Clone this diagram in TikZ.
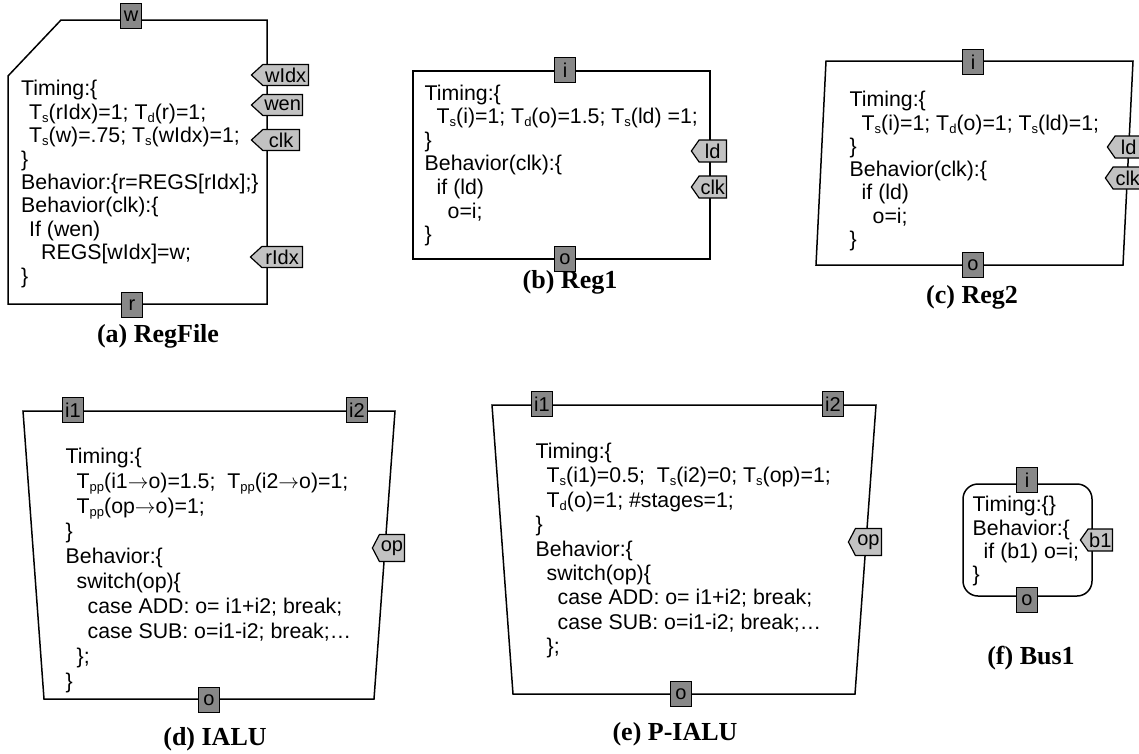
\documentclass[tikz,border=0pt]{standalone}
\usepackage{fontspec}
\setmainfont{Liberation Sans}
\newfontfamily\capfont{Liberation Serif}
\usetikzlibrary{shapes.symbols}
\definecolor{portgray}{RGB}{136,136,136}
\definecolor{taggray}{RGB}{194,194,194}
\newcommand{\sbs}[1]{\raisebox{-3pt}{\fontsize{13}{13}\selectfont #1}}
\begin{document}
\begin{tikzpicture}[x=1pt,y=-1pt,
  outline/.style={draw=black, line width=1.5pt, line join=miter},
  port/.style={draw=black, fill=portgray, line width=1.2pt, minimum width=21pt,
    minimum height=25pt, inner sep=0pt, font=\fontsize{20}{20}\selectfont},
  tagbox/.style={signal, signal to=west, draw=black, fill=taggray, line width=1.2pt,
    minimum height=21pt, inner sep=0pt, anchor=east, font=\fontsize{20}{20}\selectfont},
  code/.style={anchor=north west, inner sep=0pt, align=left},
  caption/.style={font=\capfont\bfseries\fontsize{26}{26}\selectfont, anchor=base, inner sep=0pt}
]
\useasboundingbox (0,0) rectangle (1139,753);

% ---------- (a) RegFile ----------
\draw[outline] (8,76) -- (61,20) -- (267,20) -- (267,304) -- (8,304) -- cycle;
\node[port] (a-w) at (131,16) {w};
\node[port] (a-r) at (132,305) {r};
\node[tagbox, signal pointer angle=85, minimum width=57pt] (a-wIdx) at (309,75) {wIdx};
\node[tagbox, signal pointer angle=85, minimum width=51pt] (a-wen) at (303,105) {wen};
\node[tagbox, signal pointer angle=85, minimum width=48pt] (a-clk) at (300,140) {clk};
\node[tagbox, signal pointer angle=85, minimum width=52pt] (a-rIdx) at (303,257) {rIdx};
\node[code, font=\fontsize{21.3}{23.4}\selectfont] (a-code) at (21,79.7) {\rule{0pt}{16pt}Timing:\{\\
\hspace*{8pt}T\sbs{s}(rIdx)=1; T\sbs{d}(r)=1;\\
\hspace*{8pt}T\sbs{s}(w)=.75; T\sbs{s}(wIdx)=1;\\
\}\\
Behavior:\{r=REGS[rIdx];\}\\
Behavior(clk):\{\\
\hspace*{8pt}If (wen)\\
\hspace*{20pt}REGS[wIdx]=w;\\
\}};
\node[caption] (a-cap) at (158,342) {(a) RegFile};

% ---------- (b) Reg1 ----------
\draw[outline] (413,71) rectangle (710,259);
\node[port] (b-i) at (565,70) {i};
\node[port] (b-o) at (565,259) {o};
\node[tagbox, signal pointer angle=110, minimum width=35pt, minimum height=22pt] (b-ld) at (727,151) {ld};
\node[tagbox, signal pointer angle=110, minimum width=35pt, minimum height=22pt] (b-clk) at (727,187) {clk};
\node[code, font=\fontsize{21.3}{23.6}\selectfont] (b-code) at (424.5,83.8) {\rule{0pt}{16pt}Timing:\{\\
\hspace*{12pt}T\sbs{s}(i)=1; T\sbs{d}(o)=1.5; T\sbs{s}(ld) =1;\\
\}\\
Behavior(clk):\{\\
\hspace*{12pt}if (ld)\\
\hspace*{23pt}o=i;\\
\}};
\node[caption] (b-cap) at (570,288) {(b) Reg1};

% ---------- (c) Reg2 ----------
\draw[outline] (826,61) -- (1133,61) -- (1123,265) -- (816,265) -- cycle;
\node[port] (c-i) at (973,62) {i};
\node[port] (c-o) at (973,265) {o};
\node[tagbox, signal pointer angle=110, minimum width=35pt, minimum height=22pt] (c-ld) at (1143,147) {ld};
\node[tagbox, signal pointer angle=110, minimum width=37pt, minimum height=22pt] (c-clk) at (1143,178) {clk};
\node[code, font=\fontsize{21.3}{23.3}\selectfont] (c-code) at (849.5,90.5) {\rule{0pt}{16pt}Timing:\{\\
\hspace*{12pt}T\sbs{s}(i)=1; T\sbs{d}(o)=1; T\sbs{s}(ld)=1;\\
\}\\
Behavior(clk):\{\\
\hspace*{12pt}if (ld)\\
\hspace*{23pt}o=i;\\
\}};
\node[caption] (c-cap) at (972,303) {(c) Reg2};

% ---------- (d) IALU ----------
\draw[outline] (23,411) -- (395,411) -- (374,699) -- (44,699) -- cycle;
\node[port] (d-i1) at (73,410) {i1};
\node[port] (d-i2) at (357,410) {i2};
\node[port] (d-o) at (209,700) {o};
\node[tagbox, signal pointer angle=125, minimum width=32pt, minimum height=27pt] (d-op) at (405,548) {op};
\node[code, font=\fontsize{21.3}{25}\selectfont] (d-code) at (65.5,447.2) {\rule{0pt}{16pt}Timing:\{\\
\hspace*{11pt}T\sbs{pp}(i1$\rightarrow$o)=1.5;\ \ T\sbs{pp}(i2$\rightarrow$o)=1;\\
\hspace*{11pt}T\sbs{pp}(op$\rightarrow$o)=1;\\
\}\\
Behavior:\{\\
\hspace*{11pt}switch(op)\{\\
\hspace*{22pt}case ADD: o= i1+i2; break;\\
\hspace*{22pt}case SUB: o=i1-i2; break;…\\
\hspace*{11pt}\};\\
\}};
\node[caption] (d-cap) at (215,745) {(d) IALU};

% ---------- (e) P-IALU ----------
\draw[outline] (492,405) -- (876,405) -- (855,694) -- (513,694) -- cycle;
\node[port] (e-i1) at (542,404) {i1};
\node[port] (e-i2) at (833,404) {i2};
\node[port] (e-o) at (681,694) {o};
\node[tagbox, signal pointer angle=125, minimum width=33pt, minimum height=27pt] (e-op) at (882,542) {op};
\node[code, font=\fontsize{21.3}{24.4}\selectfont] (e-code) at (535.5,442.2) {\rule{0pt}{16pt}Timing:\{\\
\hspace*{11pt}T\sbs{s}(i1)=0.5;\ \ T\sbs{s}(i2)=0; T\sbs{s}(op)=1;\\
\hspace*{11pt}T\sbs{d}(o)=1; \#stages=1;\\
\}\\
Behavior:\{\\
\hspace*{11pt}switch(op)\{\\
\hspace*{22pt}case ADD: o= i1+i2; break;\\
\hspace*{22pt}case SUB: o=i1-i2; break;…\\
\hspace*{11pt}\};};
\node[caption] (e-cap) at (675,740) {(e) P-IALU};

% ---------- (f) Bus1 ----------
\draw[outline, rounded corners=15pt] (963,484) rectangle (1092,596);
\node[port] (f-i) at (1027,480) {i};
\node[port] (f-o) at (1027,600) {o};
\node[tagbox, signal pointer angle=110, minimum width=32pt, minimum height=22pt] (f-b1) at (1113,540) {b1};
\node[code, font=\fontsize{21.3}{23.3}\selectfont] (f-code) at (972.5,495.5) {\rule{0pt}{16pt}Timing:\{\}\\
Behavior:\{\\
\hspace*{11pt}if (b1) o=i;\\
\}};
\node[caption] (f-cap) at (1031,664) {(f) Bus1};
\end{tikzpicture}
\end{document}
